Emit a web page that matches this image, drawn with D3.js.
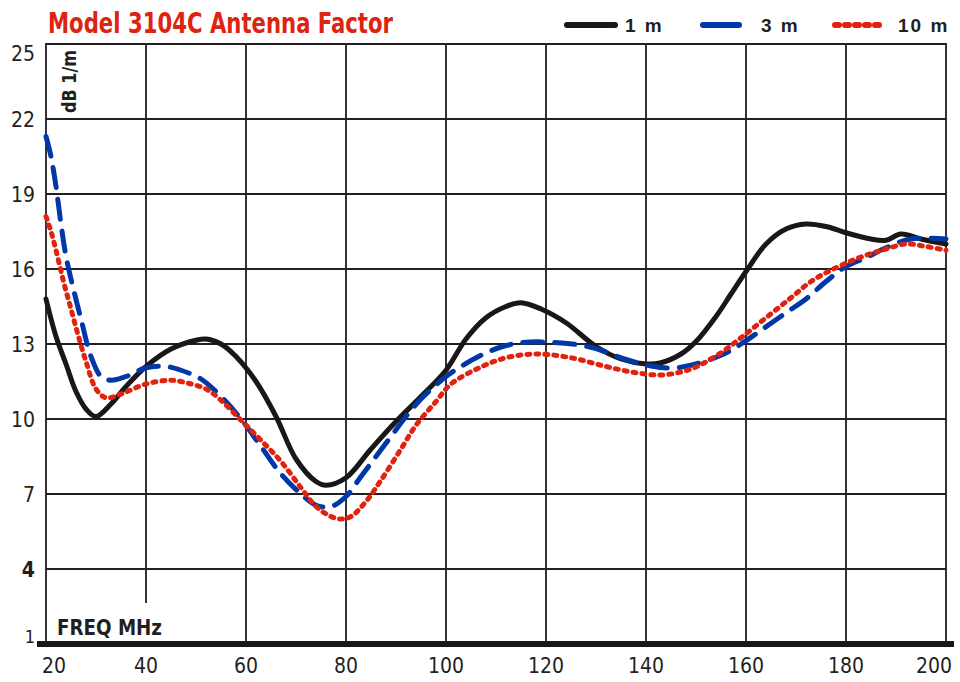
<!DOCTYPE html>
<html>
<head>
<meta charset="utf-8">
<script src="https://cdn.jsdelivr.net/npm/d3@7"></script>
<style>
  body { margin: 0; background: #fff; }
  svg { display: block; }
  .num { font-family: "Liberation Sans Narrow", "Arial Narrow", "DejaVu Sans Condensed", sans-serif; font-size: 21px; fill: #231f20; }
  .bold { font-family: "Liberation Sans Narrow", "Arial Narrow", "DejaVu Sans Condensed", sans-serif; font-weight: bold; fill: #231f20; }
</style>
</head>
<body>
<svg id="chart" width="960" height="682"></svg>
<script>
// tick values
const freqTicks = [20, 40, 60, 80, 100, 120, 140, 160, 180, 200]
const dbTicks = [1, 4, 7, 10, 13, 16, 19, 22, 25]

// 1 m curve
const freq1m = [20, 22, 24, 26, 28, 30, 33, 36, 40, 45, 50, 52, 55, 58, 62, 66, 70, 74, 76, 80, 85, 90, 95, 100, 104, 108, 112, 115, 119, 124, 130, 135, 140, 143, 147, 150, 154, 157, 160, 164, 168, 172, 176, 180, 185, 188, 191, 195, 200]
const db1m = [14.8, 13.3, 12.2, 11.1, 10.4, 10.1, 10.6, 11.3, 12.1, 12.8, 13.15, 13.2, 13.0, 12.5, 11.5, 10.1, 8.4, 7.5, 7.35, 7.65, 8.8, 9.9, 10.9, 11.95, 13.2, 14.05, 14.5, 14.65, 14.4, 13.85, 12.9, 12.4, 12.2, 12.25, 12.6, 13.1, 14.1, 15.0, 15.9, 17.0, 17.6, 17.8, 17.7, 17.45, 17.2, 17.15, 17.4, 17.2, 17.0]

// 3 m curve
const freq3m = [20, 21, 22, 23, 24, 25, 27, 29, 31, 33, 36, 40, 44, 47, 51, 55, 59, 63, 67, 71, 74, 77, 80, 83, 86, 89, 92, 95, 100, 103, 107, 111, 115, 120, 127, 131, 136, 141, 145, 149, 155, 159, 163, 168, 172, 176, 180, 184, 188, 193, 200]
const db3m = [21.3, 20.5, 19.3, 17.8, 16.5, 15.6, 14.0, 12.5, 11.7, 11.55, 11.7, 12.05, 12.1, 11.95, 11.6, 10.9, 10.0, 8.9, 7.8, 7.0, 6.55, 6.5, 6.9, 7.7, 8.5, 9.3, 10.1, 10.8, 11.7, 12.1, 12.55, 12.88, 13.05, 13.08, 12.95, 12.75, 12.38, 12.12, 12.04, 12.15, 12.55, 13.0, 13.55, 14.25, 14.8, 15.5, 16.1, 16.45, 16.85, 17.2, 17.2]

// 10 m curve
const freq10m = [20, 21, 22, 23.5, 25, 26.5, 28, 30, 32, 35, 40, 45, 48, 52, 55, 59, 63, 67, 71, 74, 77, 79, 81, 84, 87, 91, 94, 98, 101, 107, 112, 118, 125, 132, 138, 143, 147, 150, 155, 159, 164, 169, 173, 178, 183, 188, 192, 196, 200]
const db10m = [18.1, 17.5, 16.75, 15.5, 14.4, 13.3, 12.3, 11.2, 10.85, 11.0, 11.4, 11.55, 11.45, 11.2, 10.75, 9.95, 9.15, 8.3, 7.25, 6.5, 6.1, 6.0, 6.1, 6.7, 7.55, 8.8, 9.75, 10.7, 11.4, 12.08, 12.45, 12.6, 12.45, 12.1, 11.85, 11.76, 11.88, 12.08, 12.65, 13.25, 14.05, 14.85, 15.5, 16.05, 16.48, 16.8, 17.0, 16.9, 16.75]

const seriesNames = ['1 m', '3 m', '10 m']

const svg = d3.select('#chart')
const gridColor = '#231f20'

// plot area
const x = d3.scaleLinear().domain([20, 200]).range([46, 946])
const y = d3.scaleLinear().domain([1, 25]).range([644, 44])

// horizontal grid
svg.append('g')
  .selectAll('line')
  .data(dbTicks.filter(d => d > 1))
  .join('line')
    .attr('x1', x(20)).attr('x2', x(200))
    .attr('y1', d => y(d)).attr('y2', d => y(d))
    .attr('stroke', gridColor)
    .attr('stroke-width', 1.8)

// vertical grid (the 40 line stops short of the FREQ label)
svg.append('g')
  .selectAll('line')
  .data(freqTicks)
  .join('line')
    .attr('x1', d => x(d)).attr('x2', d => x(d))
    .attr('y1', y(25) - 0.9)
    .attr('y2', d => d === 40 ? 603 : y(1))
    .attr('stroke', gridColor)
    .attr('stroke-width', 1.8)

// heavy baseline
svg.append('line')
  .attr('x1', 37).attr('x2', 954)
  .attr('y1', y(1)).attr('y2', y(1))
  .attr('stroke', '#1a1718')
  .attr('stroke-width', 6)

// x labels
svg.append('g')
  .selectAll('text')
  .data(freqTicks)
  .join('text')
    .attr('class', 'num')
    .attr('x', (d, i) => i === 0 ? x(d) - 4 : i === freqTicks.length - 1 ? x(d) + 6 : x(d))
    .attr('y', 673)
    .attr('text-anchor', (d, i) => i === 0 ? 'start' : i === freqTicks.length - 1 ? 'end' : 'middle')
    .text(d => d)

// y labels
svg.append('g')
  .selectAll('text')
  .data(dbTicks)
  .join('text')
    .attr('class', d => d === 4 ? 'bold' : 'num')
    .attr('x', 35)
    .attr('y', d => d === 25 ? y(d) + 17 : d === 1 ? y(d) - 1 : y(d) + 8)
    .attr('text-anchor', 'end')
    .style('font-size', d => d === 1 ? '18px' : '21px')
    .text(d => d)

// axis titles
svg.append('text')
  .attr('class', 'bold')
  .attr('transform', 'translate(76, 113) rotate(-90)')
  .style('font-size', '19px')
  .attr('textLength', 63)
  .attr('lengthAdjust', 'spacingAndGlyphs')
  .text('dB 1/m')

svg.append('text')
  .attr('class', 'bold')
  .attr('x', 57).attr('y', 635)
  .style('font-size', '21px')
  .attr('textLength', 105)
  .attr('lengthAdjust', 'spacingAndGlyphs')
  .text('FREQ  MHz')

// title
svg.append('text')
  .attr('x', 48).attr('y', 33)
  .attr('fill', '#de2310')
  .style('font-family', '"Liberation Sans Narrow", "Arial Narrow", "DejaVu Sans Condensed", sans-serif')
  .style('font-weight', 'bold')
  .style('font-size', '29px')
  .attr('textLength', 345)
  .attr('lengthAdjust', 'spacingAndGlyphs')
  .text('Model 3104C Antenna Factor')

// curves
const line = d3.line()
  .x(d => x(d[0]))
  .y(d => y(d[1]))
  .curve(d3.curveCatmullRom.alpha(0.5))

const styles = [
  { color: '#1a1718', dash: null },
  { color: '#0038a8', dash: '20,12' },
  { color: '#e0220f', dash: '3,6' }
]

const series = [
  d3.zip(freq1m, db1m),
  d3.zip(freq3m, db3m),
  d3.zip(freq10m, db10m)
]

svg.append('g')
  .selectAll('path')
  .data(series)
  .join('path')
    .attr('d', line)
    .attr('fill', 'none')
    .attr('stroke', (d, i) => styles[i].color)
    .attr('stroke-width', 5)
    .attr('stroke-linecap', 'round')
    .attr('stroke-linejoin', 'round')
    .attr('stroke-dasharray', (d, i) => styles[i].dash)

// legend
const legendX = [567, 703, 835]
const legendW = [48, 36, 47]
const labelX = [625, 761, 898]

const legend = svg.append('g')
seriesNames.forEach(function(name, i) {
  legend.append('line')
    .attr('x1', legendX[i]).attr('x2', legendX[i] + legendW[i])
    .attr('y1', 25).attr('y2', 25)
    .attr('stroke', styles[i].color)
    .attr('stroke-width', 6)
    .attr('stroke-linecap', 'round')
    .attr('stroke-dasharray', i === 2 ? '4,6' : null)
  legend.append('text')
    .attr('class', 'bold')
    .attr('x', labelX[i]).attr('y', 32)
    .style('font-size', '19px')
    .style('font-family', '"Liberation Sans", Arial, sans-serif')
    .style('letter-spacing', '2px')
    .text(name)
})
</script>
</body>
</html>
